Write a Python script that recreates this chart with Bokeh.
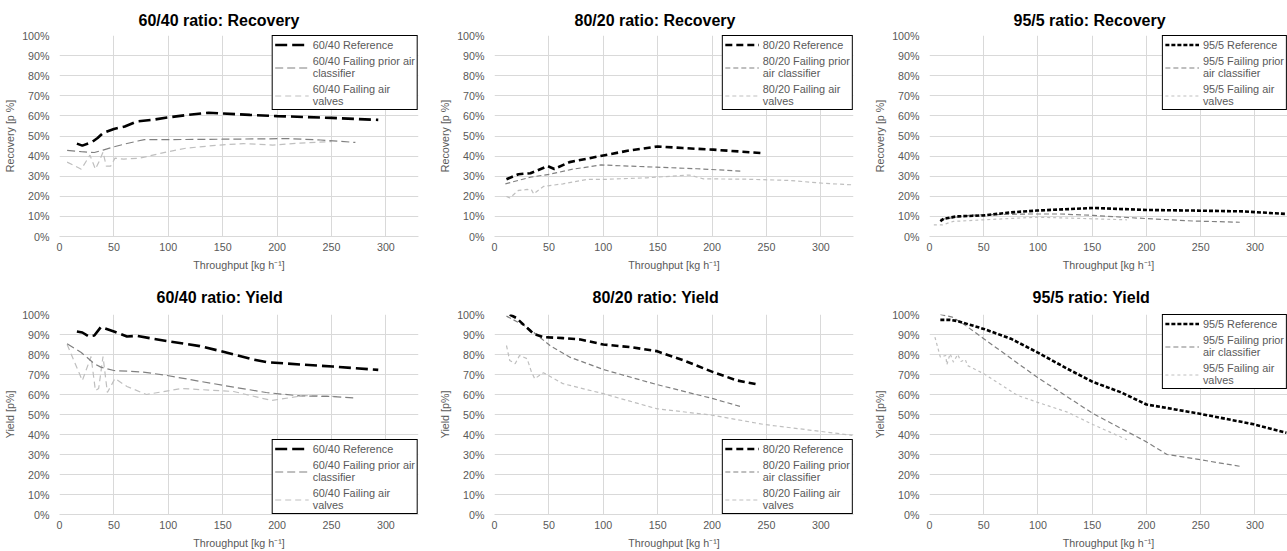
from bokeh.plotting import figure
from bokeh.layouts import gridplot
from bokeh.models import Legend, LegendItem, FixedTicker, PrintfTickFormatter, Range1d
from bokeh.embed import file_html
from bokeh.resources import INLINE

X_TICKS = [0, 50, 100, 150, 200, 250, 300]
Y_TICKS = [0, 10, 20, 30, 40, 50, 60, 70, 80, 90, 100]
X_LABEL = "Throughput [kg h\u207b\u00b9]"

# ---------------- Recovery 60/40 ----------------
rec6040_ref_x = [16, 21, 30, 35, 40, 50, 60, 71, 85, 99, 115, 137, 150, 175, 200, 250, 293]
rec6040_ref_y = [46.2, 45.2, 47.0, 49.0, 51.5, 53.5, 54.7, 57.2, 58.0, 59.2, 60.3, 61.6, 61.2, 60.5, 59.9, 59.0, 58.0]
rec6040_prior_x = [7, 20, 32, 40, 50, 60, 72, 78, 100, 150, 210, 240, 272]
rec6040_prior_y = [42.8, 42.2, 41.8, 43.0, 44.6, 46.0, 47.5, 48.2, 48.2, 48.4, 48.7, 48.0, 46.8]
rec6040_valve_x = [7, 20, 28, 33, 37, 40, 43, 47, 51, 59, 74, 98, 117, 147, 169, 196, 221, 250]
rec6040_valve_y = [37.0, 33.5, 40.5, 33.5, 38.0, 42.0, 35.0, 35.0, 39.0, 38.5, 39.0, 42.0, 44.0, 45.5, 46.2, 45.5, 46.5, 47.2]

# ---------------- Recovery 80/20 ----------------
rec8020_ref_x = [11, 22, 33, 49, 55, 69, 100, 124, 150, 173, 201, 225, 246]
rec8020_ref_y = [28.5, 31.0, 31.5, 35.0, 33.6, 37.0, 40.3, 42.8, 44.8, 44.0, 43.2, 42.3, 41.5]
rec8020_prior_x = [10, 33, 51, 72, 98, 124, 149, 186, 204, 228]
rec8020_prior_y = [26.2, 29.5, 31.0, 33.5, 35.6, 35.0, 34.5, 33.7, 33.2, 32.5]
rec8020_valve_x = [11, 14, 22, 30, 34, 36, 45, 63, 85, 100, 140, 179, 192, 231, 271, 302, 329]
rec8020_valve_y = [19.9, 19.2, 22.9, 23.4, 23.2, 21.2, 24.9, 26.2, 28.4, 28.4, 29.2, 30.6, 28.7, 28.5, 27.9, 26.5, 25.7]

# ---------------- Recovery 95/5 ----------------
rec955_ref_x = [10, 13, 25, 50, 75, 99, 151, 200, 243, 289, 329]
rec955_ref_y = [7.6, 8.8, 10.0, 10.5, 12.0, 12.9, 14.2, 13.2, 12.9, 12.5, 11.2]
rec955_prior_x = [10, 25, 38, 53, 90, 120, 151, 200, 243, 286]
rec955_prior_y = [8.5, 9.6, 10.6, 10.8, 11.2, 11.2, 10.5, 8.9, 7.7, 7.1]
rec955_valve_x = [4, 12, 22, 50, 99, 151, 182]
rec955_valve_y = [5.8, 5.8, 7.5, 8.3, 9.6, 8.8, 8.3]

# ---------------- Yield 60/40 ----------------
yld6040_ref_x = [16, 21, 27, 32, 38, 42, 50, 62, 71, 99, 129, 148, 178, 190, 221, 251, 293]
yld6040_ref_y = [91.5, 91.0, 89.0, 89.5, 93.7, 93.0, 91.5, 89.0, 89.3, 86.7, 84.2, 81.7, 77.5, 76.2, 75.0, 74.0, 72.3]
yld6040_prior_x = [7, 20, 32, 38, 50, 77, 99, 129, 160, 190, 221, 251, 273]
yld6040_prior_y = [85.4, 81.0, 75.4, 73.7, 72.0, 71.2, 69.5, 66.6, 63.7, 61.0, 59.3, 59.0, 58.2]
yld6040_valve_x = [7, 21, 29, 33, 36, 40, 44, 51, 62, 80, 112, 160, 195, 225, 255]
yld6040_valve_y = [85.0, 67.0, 79.0, 62.0, 63.0, 79.0, 61.0, 68.0, 64.0, 60.0, 63.0, 61.5, 57.0, 59.5, 59.0]

# ---------------- Yield 80/20 ----------------
yld8020_ref_x = [14, 20, 36, 45, 63, 79, 100, 125, 149, 174, 201, 223, 243]
yld8020_ref_y = [100, 98.3, 90.3, 88.7, 88.2, 87.5, 85.0, 83.7, 81.7, 77.0, 71.2, 67.0, 64.9]
yld8020_prior_x = [11, 30, 51, 69, 100, 149, 201, 228]
yld8020_prior_y = [99.2, 93.7, 84.5, 78.7, 72.5, 65.0, 57.9, 53.7]
yld8020_valve_x = [11, 14, 19, 23, 30, 34, 37, 45, 63, 100, 149, 201, 248, 329]
yld8020_valve_y = [84.5, 77.0, 75.4, 79.5, 77.9, 71.2, 67.9, 70.9, 65.4, 60.4, 52.9, 49.6, 45.0, 39.6]

# ---------------- Yield 95/5 ----------------
yld955_ref_x = [10, 19, 26, 50, 75, 99, 127, 151, 176, 200, 228, 249, 299, 329]
yld955_ref_y = [97.3, 97.3, 96.7, 92.8, 87.9, 81.2, 72.9, 66.2, 61.2, 55.0, 52.4, 50.4, 45.1, 40.9]
yld955_prior_x = [10, 21, 32, 50, 99, 151, 200, 219, 243, 286]
yld955_prior_y = [100, 98.7, 95.0, 87.9, 68.7, 50.4, 36.3, 30.0, 28.0, 24.1]
yld955_valve_x = [5, 10, 15, 16, 19, 22, 26, 29, 33, 35, 50, 81, 99, 127, 151, 182]
yld955_valve_y = [88.7, 78.7, 79.5, 74.9, 80.4, 76.2, 80.0, 76.5, 77.5, 74.5, 70.4, 59.6, 56.2, 51.2, 44.9, 37.4]

FONT = "Liberation Sans"
GRID = "#d9d9d9"
TXT = "#595959"

DASHES = {
    "60/40": ("12 5", "8 4", "6 4"),
    "80/20": ("7 4", "5 3", "4 3"),
    "95/5": ("4 2", "5 3", "3 3"),
}
PRIOR_LABEL = {
    "60/40": "60/40 Failing prior air\nclassifier",
    "80/20": "80/20 Failing prior\nair classifier",
    "95/5": "95/5 Failing prior\nair classifier",
}


def panel(title, ylabel, ratio, ref, prior, valve, legend_loc, width, height,
          borders, t_offset, t_standoff):
    bl, br, bt, bb = borders
    p = figure(width=width, height=height, x_range=Range1d(0, 330), y_range=Range1d(0, 100),
               output_backend="svg", toolbar_location=None,
               min_border_left=bl, min_border_right=br, min_border_top=bt, min_border_bottom=bb,
               title=title)
    p.outline_line_color = None
    p.background_fill_color = "white"
    p.border_fill_color = "white"
    p.title.align = "left"
    p.title.offset = t_offset
    p.title.standoff = t_standoff
    p.title.text_font = FONT
    p.title.text_font_size = "16px"
    p.title.text_font_style = "bold"
    p.title.text_color = "#000000"

    p.xaxis.ticker = FixedTicker(ticks=X_TICKS)
    p.yaxis.ticker = FixedTicker(ticks=Y_TICKS)
    p.yaxis.formatter = PrintfTickFormatter(format="%d%%")
    p.xaxis.axis_label = X_LABEL
    p.yaxis.axis_label = ylabel
    for ax in (p.xaxis[0], p.yaxis[0]):
        ax.major_tick_line_color = None
        ax.minor_tick_line_color = None
        ax.major_tick_out = 0
        ax.major_tick_in = 0
        ax.minor_tick_out = 0
        ax.major_label_text_font = FONT
        ax.major_label_text_font_size = "10.7px"
        ax.major_label_text_color = TXT
        ax.axis_label_text_font = FONT
        ax.axis_label_text_font_size = "10.7px"
        ax.axis_label_text_color = TXT
        ax.axis_label_text_font_style = "normal"
    p.xaxis.axis_line_color = GRID
    p.yaxis.axis_line_color = None
    p.xaxis.major_label_standoff = 6
    p.xaxis.axis_label_standoff = 5
    p.yaxis.major_label_standoff = 10
    p.yaxis.axis_label_standoff = 3
    p.xgrid.grid_line_color = GRID
    p.ygrid.grid_line_color = GRID

    d_ref, d_prior, d_valve = DASHES[ratio]
    r_valve = p.line(valve[0], valve[1], line_color="#bfbfbf", line_width=1.2, line_dash=d_valve)
    r_prior = p.line(prior[0], prior[1], line_color="#808080", line_width=1.2, line_dash=d_prior)
    r_ref = p.line(ref[0], ref[1], line_color="#000000", line_width=2.6, line_dash=d_ref)

    legend = Legend(items=[
        LegendItem(label=f"{ratio} Reference", renderers=[r_ref]),
        LegendItem(label=PRIOR_LABEL[ratio], renderers=[r_prior]),
        LegendItem(label=f"{ratio} Failing air\nvalves", renderers=[r_valve]),
    ], location=legend_loc)
    legend.margin = 0
    legend.padding = 2
    legend.spacing = 4
    legend.glyph_width = 34
    legend.glyph_height = 13
    legend.label_height = 13
    legend.label_standoff = 4
    legend.label_text_font = FONT
    legend.label_text_font_size = "10.9px"
    legend.label_text_color = TXT
    legend.label_text_line_height = 1.1
    legend.border_line_color = "black"
    legend.border_line_alpha = 1.0
    legend.border_line_width = 1
    legend.background_fill_color = "white"
    legend.background_fill_alpha = 1
    p.add_layout(legend)
    return p


p1 = panel("60/40 ratio: Recovery", "Recovery [p %]", "60/40",
           (rec6040_ref_x, rec6040_ref_y), (rec6040_prior_x, rec6040_prior_y),
           (rec6040_valve_x, rec6040_valve_y), "top_right", 430, 275, (59, 12, 35, 39), 79, 14)
p2 = panel("80/20 ratio: Recovery", "Recovery [p %]", "80/20",
           (rec8020_ref_x, rec8020_ref_y), (rec8020_prior_x, rec8020_prior_y),
           (rec8020_valve_x, rec8020_valve_y), "top_right", 430, 275, (64, 7, 35, 39), 80, 14)
p3 = panel("95/5 ratio: Recovery", "Recovery [p %]", "95/5",
           (rec955_ref_x, rec955_ref_y), (rec955_prior_x, rec955_prior_y),
           (rec955_valve_x, rec955_valve_y), "top_right", 427, 275, (69, 0, 35, 39), 84, 14)
p4 = panel("60/40 ratio: Yield", "Yield [p%]", "60/40",
           (yld6040_ref_x, yld6040_ref_y), (yld6040_prior_x, yld6040_prior_y),
           (yld6040_valve_x, yld6040_valve_y), "bottom_right", 430, 276, (59, 12, 39, 37), 97, 17)
p5 = panel("80/20 ratio: Yield", "Yield [p%]", "80/20",
           (yld8020_ref_x, yld8020_ref_y), (yld8020_prior_x, yld8020_prior_y),
           (yld8020_valve_x, yld8020_valve_y), "bottom_right", 430, 276, (64, 7, 39, 37), 98, 17)
p6 = panel("95/5 ratio: Yield", "Yield [p%]", "95/5",
           (yld955_ref_x, yld955_ref_y), (yld955_prior_x, yld955_prior_y),
           (yld955_valve_x, yld955_valve_y), "top_right", 427, 276, (69, 0, 39, 37), 103, 17)

grid = gridplot([[p1, p2, p3], [p4, p5, p6]], toolbar_location=None)

open("out.html", "w").write(file_html(grid, INLINE))
